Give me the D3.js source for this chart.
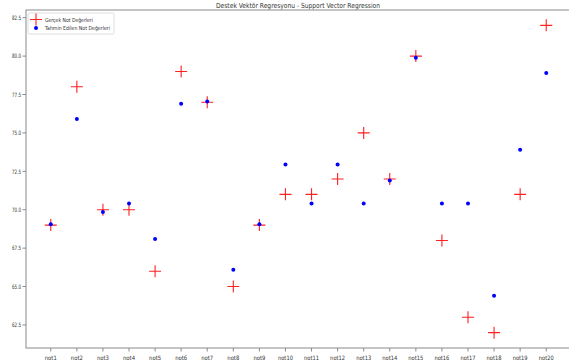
<!DOCTYPE html>
<html>
<head>
<meta charset="utf-8">
<script src="https://cdn.jsdelivr.net/npm/d3@7"></script>
<style>
  body { margin: 0; background: #fff; }
  svg { display: block; }
</style>
</head>
<body>
<svg id="chart" width="569" height="363"></svg>
<script>
// ── data ──
const labels = ['not1','not2','not3','not4','not5','not6','not7','not8','not9','not10',
                'not11','not12','not13','not14','not15','not16','not17','not18','not19','not20'];
const actual = [69, 78, 70, 70, 66, 79, 77, 65, 69, 71, 71, 72, 75, 72, 80, 68, 63, 62, 71, 82];
const predicted = [69.05, 75.9, 69.85, 70.4, 68.1, 76.9, 77.05, 66.1, 69.05, 72.95,
                   70.4, 72.95, 70.4, 71.9, 79.9, 70.4, 70.4, 64.4, 73.9, 78.9];
const yTicks = [62.5, 65.0, 67.5, 70.0, 72.5, 75.0, 77.5, 80.0, 82.5];

const W = 569, H = 363;
const box = { left: 26, right: 571, top: 10, bottom: 348 };
const FONT = 'DejaVu Sans, sans-serif';

const svg = d3.select('#chart');

// matplotlib-ish 5% margins
const x = d3.scaleLinear([-0.95, labels.length - 1 + 0.95], [box.left, box.right]);
const y = d3.scaleLinear([61, 83], [box.bottom, box.top]);

// title
svg.append('text')
  .attr('x', 298).attr('y', 7.5)
  .attr('text-anchor', 'middle')
  .attr('font-family', FONT).attr('font-size', 7)
  .attr('textLength', 164).attr('lengthAdjust', 'spacingAndGlyphs')
  .attr('fill', '#333')
  .text('Destek Vektör Regresyonu - Support Vector Regression');

// spines
svg.append('rect')
  .attr('x', box.left).attr('y', box.top)
  .attr('width', box.right - box.left).attr('height', box.bottom - box.top)
  .attr('fill', 'none').attr('stroke', '#8a8a8a').attr('stroke-width', 1);

// y axis
const gy = svg.append('g').attr('transform', `translate(${box.left},0)`);
yTicks.forEach(t => {
  gy.append('line').attr('x1', -3.5).attr('x2', 0)
    .attr('y1', y(t)).attr('y2', y(t)).attr('stroke', '#8a8a8a');
  gy.append('text').attr('x', -5).attr('y', y(t) + 2.2)
    .attr('text-anchor', 'end')
    .attr('font-family', FONT).attr('font-size', 6)
    .attr('textLength', 9).attr('lengthAdjust', 'spacingAndGlyphs')
    .attr('fill', '#333')
    .text(t.toFixed(1));
});

// x axis
const gx = svg.append('g').attr('transform', `translate(0,${box.bottom})`);
labels.forEach((l, i) => {
  gx.append('line').attr('x1', x(i)).attr('x2', x(i))
    .attr('y1', 0).attr('y2', 3.5).attr('stroke', '#8a8a8a');
  gx.append('text').attr('x', x(i)).attr('y', 11.5)
    .attr('text-anchor', 'middle')
    .attr('font-family', FONT).attr('font-size', 6)
    .attr('textLength', l.length * 3).attr('lengthAdjust', 'spacingAndGlyphs')
    .attr('fill', '#333')
    .text(l);
});

// actual values: red plus markers
const plus = d3.symbol().type(d3.symbolCross);
const plusPath = s => `M${-s},0H${s}M0,${-s}V${s}`;
svg.append('g').selectAll('path')
  .data(actual)
  .join('path')
  .attr('transform', (d, i) => `translate(${x(i)},${y(d)})`)
  .attr('d', plusPath(6))
  .attr('stroke', '#ff2020').attr('stroke-width', 1.1)
  .attr('fill', 'none');

// predicted values: blue dots
svg.append('g').selectAll('circle')
  .data(predicted)
  .join('circle')
  .attr('cx', (d, i) => x(i)).attr('cy', d => y(d))
  .attr('r', 2)
  .attr('fill', '#0000ff');

// legend
const lg = svg.append('g').attr('transform', 'translate(28,13)');
lg.append('rect').attr('width', 86).attr('height', 21).attr('rx', 1.5)
  .attr('fill', '#fff').attr('stroke', '#d6d6d6').attr('stroke-width', 0.8);
lg.append('path').attr('transform', 'translate(8,6.5)').attr('d', plusPath(6))
  .attr('stroke', '#ff2020').attr('stroke-width', 1.1).attr('fill', 'none');
lg.append('circle').attr('cx', 8).attr('cy', 15).attr('r', 2).attr('fill', '#0000ff');
lg.append('text').attr('x', 17).attr('y', 8.5)
  .attr('font-family', FONT).attr('font-size', 5.5)
  .attr('textLength', 48).attr('lengthAdjust', 'spacingAndGlyphs')
  .attr('fill', '#333').text('Gerçek Not Değerleri');
lg.append('text').attr('x', 17).attr('y', 17)
  .attr('font-family', FONT).attr('font-size', 5.5)
  .attr('textLength', 65).attr('lengthAdjust', 'spacingAndGlyphs')
  .attr('fill', '#333').text('Tahmin Edilen Not Değerleri');
</script>
</body>
</html>
